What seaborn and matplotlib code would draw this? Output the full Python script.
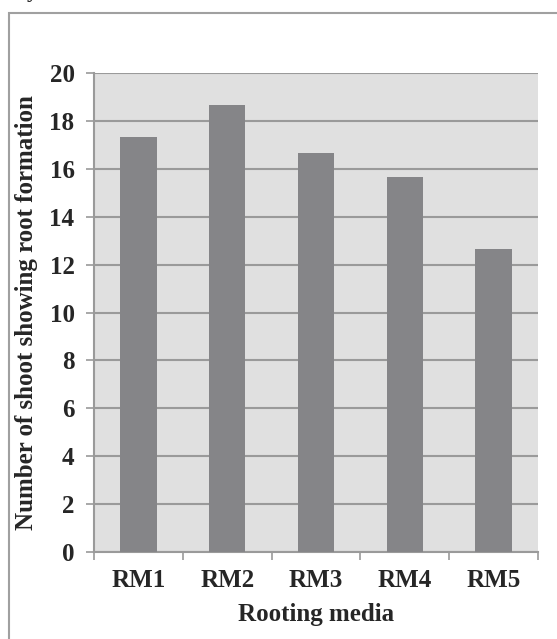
import matplotlib
matplotlib.use("Agg")
import matplotlib.pyplot as plt
import seaborn as sns
import pandas as pd
from matplotlib.patches import Rectangle

media = ["RM1", "RM2", "RM3", "RM4", "RM5"]
shoots = [17.33, 18.67, 16.67, 15.67, 12.67]
yticks = [0, 2, 4, 6, 8, 10, 12, 14, 16, 18, 20]

df = pd.DataFrame({"media": media, "shoots": shoots})

sns.set_style("white")
plt.rcParams["font.family"] = ["Liberation Serif", "DejaVu Serif"]
plt.rcParams["font.weight"] = "bold"

fig = plt.figure(figsize=(5.57, 6.39), dpi=100)
ax = fig.add_axes([94 / 557, 1 - 552 / 639, 444 / 557, 479 / 639])

sns.barplot(data=df, x="media", y="shoots", color="#858588", saturation=1,
            width=0.41, linewidth=0, ax=ax, zorder=3)

ax.set_facecolor("#e0e0e0")
ax.set_ylim(0, 20)
ax.set_xlim(-0.5, 4.5)
ax.set_yticks(yticks)
ax.set_yticklabels([str(t) for t in yticks], fontsize=18, fontweight="bold")
ax.set_xticklabels(media, fontsize=18, fontweight="bold")
ax.yaxis.grid(True, color="#9a9a9a", lw=1.5, zorder=1)
ax.set_axisbelow(True)

# tick marks at category boundaries
ax.set_xticks([i + 0.5 for i in range(-1, 5)], minor=True)
ax.tick_params(axis="x", which="major", bottom=False, length=0, pad=12)
ax.tick_params(axis="x", which="minor", bottom=True, length=6, width=1.2,
               color="#9a9a9a", direction="out")
ax.tick_params(axis="y", left=True, length=6, width=1.2, color="#9a9a9a",
               pad=8, direction="out")

for s in ["top", "right"]:
    ax.spines[s].set_visible(False)
for s in ["left", "bottom"]:
    ax.spines[s].set_color("#9a9a9a")
    ax.spines[s].set_linewidth(1.5)

ax.set_xlabel("Rooting media", fontsize=18, fontweight="bold", labelpad=8)
ax.set_ylabel("Number of shoot showing root formation", fontsize=18,
              fontweight="bold", labelpad=8)

# outer frame of the figure panel, and the clipped caption letter above it
fig.patches.append(Rectangle((9 / 557, -0.05), 1.1, 1 - 13 / 639 + 0.05,
                             transform=fig.transFigure, fill=False,
                             edgecolor="#a0a0a0", lw=1.5))
fig.text(32 / 557, 1.012, "y", fontsize=16, fontweight="bold", ha="center", va="center")

fig.savefig("out.png", dpi=100)
